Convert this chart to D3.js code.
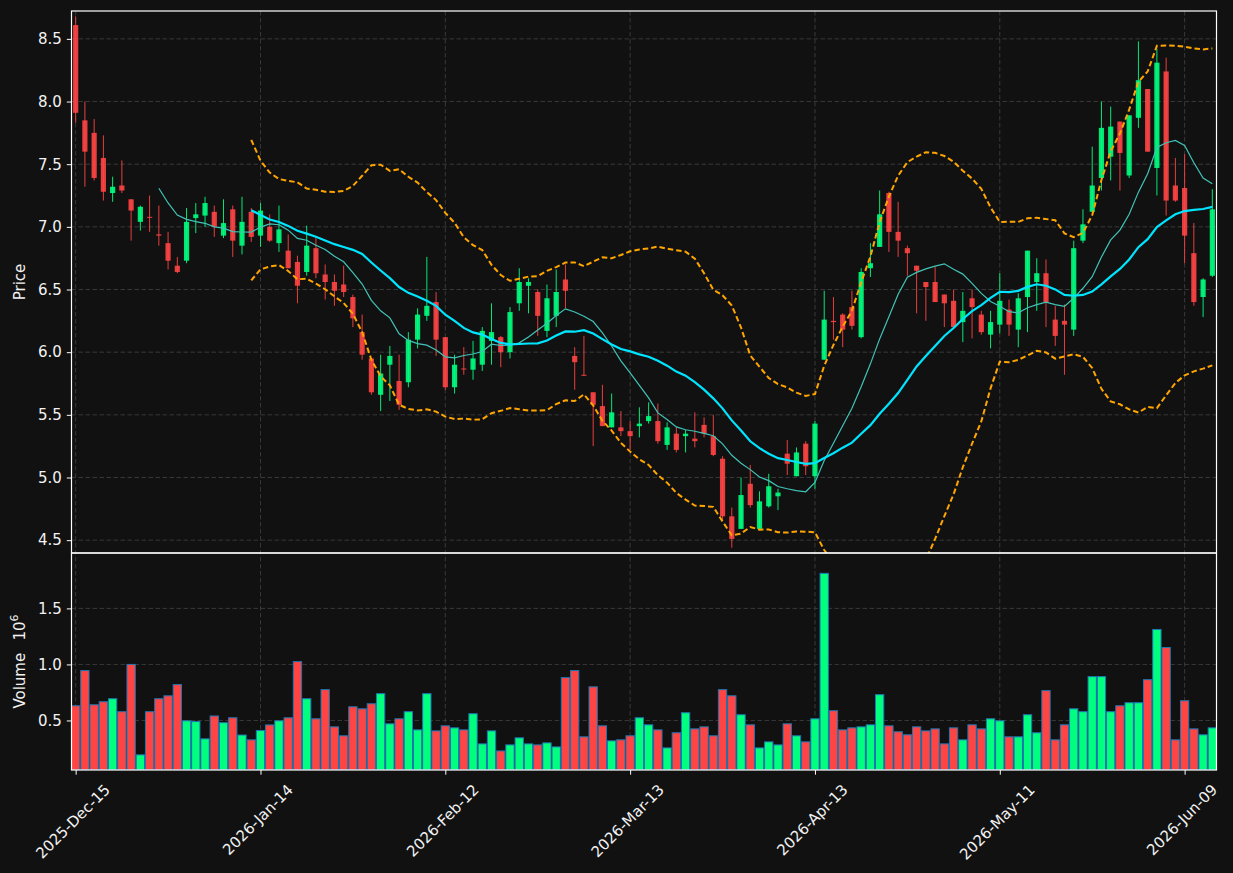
<!DOCTYPE html>
<html>
<head>
<meta charset="utf-8">
<script src="https://cdn.jsdelivr.net/npm/d3@7"></script>
<style>
  html, body { margin: 0; padding: 0; background: #111111; }
  svg { display: block; }
  text { font-family: "DejaVu Sans", sans-serif; fill: #f2f2f2; }
</style>
</head>
<body>
<svg id="chart" width="1233" height="873"></svg>
<script>
// daily OHLC (124 bars)
const openPx = [8.61,7.85,7.75,7.55,7.27,7.33,7.22,7.04,7.08,6.94,6.87,6.69,6.73,7.07,7.09,7.12,6.93,7.14,6.85,7.12,
  6.93,7.00,6.87,6.81,6.72,6.64,6.83,6.62,6.56,6.54,6.44,6.16,5.95,5.66,5.90,5.77,5.76,6.10,6.29,6.40,
  6.12,5.72,5.87,5.86,5.90,6.09,6.12,6.00,6.39,6.53,6.48,6.17,6.29,6.58,5.97,5.82,5.68,5.57,5.40,5.40,
  5.37,5.41,5.45,5.45,5.26,5.35,5.33,5.31,5.42,5.33,5.15,4.69,4.59,4.95,4.59,4.77,4.85,5.19,5.01,5.27,
  5.01,5.94,6.25,6.30,6.36,6.12,6.67,6.84,7.27,6.96,6.83,6.69,6.56,6.56,6.46,6.41,6.24,6.43,6.30,6.14,
  6.22,6.34,6.18,6.44,6.56,6.63,6.26,6.25,6.18,6.89,7.12,7.39,7.56,7.84,7.41,7.87,8.10,7.47,8.24,7.33,
  7.31,6.79,6.44,6.61];
const highPx = [8.68,8.00,7.86,7.73,7.40,7.53,7.22,7.17,7.25,7.17,6.96,6.76,7.15,7.19,7.24,7.17,7.22,7.17,7.24,7.15,
  7.19,7.10,7.17,6.94,6.77,7.01,6.92,6.70,6.62,6.69,6.46,6.30,5.95,5.98,6.05,5.98,6.16,6.35,6.76,6.48,
  6.12,5.98,6.04,6.09,6.20,6.39,6.13,6.36,6.67,6.59,6.50,6.54,6.66,6.70,6.04,6.13,5.68,5.74,5.67,5.53,
  5.45,5.56,5.60,5.59,5.44,5.40,5.38,5.52,5.48,5.50,5.17,4.76,5.00,5.10,4.89,5.03,4.91,5.30,5.24,5.29,
  5.45,6.49,6.44,6.31,6.49,6.67,6.87,7.29,7.28,7.20,6.85,6.69,6.56,6.68,6.46,6.50,6.48,6.50,6.33,6.33,
  6.63,6.42,6.47,6.81,6.75,6.74,6.37,6.38,6.89,7.14,7.64,8.00,7.96,7.84,7.89,8.48,8.10,8.42,8.35,7.55,
  7.58,7.03,6.59,7.30];
const lowPx = [7.83,7.32,7.37,7.21,7.20,7.27,6.89,6.97,6.96,6.85,6.66,6.63,6.71,6.95,7.00,6.92,6.91,6.76,6.78,6.88,
  6.84,6.88,6.80,6.67,6.39,6.61,6.59,6.42,6.37,6.44,6.20,5.94,5.66,5.53,5.61,5.54,5.72,6.03,6.25,5.97,
  5.70,5.67,5.82,5.78,5.85,5.90,5.88,5.95,6.33,6.31,6.13,6.12,6.20,6.35,5.70,5.81,5.25,5.41,5.40,5.33,
  5.22,5.32,5.43,5.27,5.22,5.20,5.20,5.24,5.32,5.17,4.66,4.44,4.59,4.76,4.58,4.76,4.74,5.02,5.01,5.02,
  4.91,5.94,6.10,6.04,6.18,6.11,6.60,6.84,6.80,6.76,6.61,6.31,6.25,6.40,6.20,6.20,6.08,6.11,6.14,6.03,
  6.15,6.13,6.04,6.16,6.33,6.20,6.05,5.82,6.13,6.87,7.12,7.29,7.37,7.29,7.39,7.79,7.60,7.25,7.09,7.20,
  6.71,6.37,6.28,6.60];
const closePx = [7.91,7.60,7.39,7.28,7.32,7.29,7.13,7.16,7.075,6.93,6.73,6.64,7.04,7.10,7.19,7.00,7.03,6.89,7.04,6.92,
  7.13,6.89,6.98,6.67,6.53,6.85,6.63,6.56,6.49,6.48,6.27,5.98,5.68,5.83,5.97,5.58,6.10,6.30,6.37,6.10,
  5.72,5.90,5.865,5.95,6.17,6.16,6.00,6.32,6.56,6.56,6.29,6.43,6.48,6.49,5.92,5.815,5.58,5.41,5.52,5.37,
  5.33,5.43,5.49,5.29,5.40,5.22,5.35,5.29,5.35,5.18,4.69,4.51,4.86,4.78,4.81,4.93,4.88,5.11,5.20,5.09,
  5.43,6.26,6.24,6.18,6.21,6.64,6.71,7.10,6.96,6.89,6.79,6.65,6.52,6.40,6.39,6.20,6.33,6.36,6.16,6.24,
  6.41,6.22,6.43,6.81,6.63,6.40,6.13,6.22,6.83,7.02,7.33,7.79,7.80,7.59,7.89,8.17,7.60,8.31,7.21,7.21,
  6.93,6.40,6.58,7.14];
// volume in millions of shares
const volumeM = [0.631,0.945,0.64,0.667,0.694,0.578,1.0,0.193,0.578,0.694,0.72,0.82,0.497,0.49,0.336,0.54,0.48,0.524,0.37,0.327,
  0.41,0.46,0.497,0.524,1.025,0.694,0.515,0.775,0.443,0.363,0.622,0.604,0.649,0.739,0.47,0.515,0.578,0.416,0.739,0.407,
  0.452,0.434,0.416,0.56,0.291,0.407,0.228,0.282,0.345,0.291,0.282,0.30,0.264,0.882,0.945,0.354,0.80,0.452,0.318,0.327,
  0.363,0.524,0.461,0.416,0.255,0.39,0.569,0.425,0.443,0.363,0.775,0.72,0.551,0.461,0.255,0.309,0.282,0.47,0.363,0.309,
  0.515,1.813,0.587,0.416,0.434,0.443,0.461,0.73,0.452,0.399,0.372,0.443,0.407,0.425,0.291,0.434,0.327,0.461,0.425,0.515,
  0.497,0.354,0.354,0.551,0.39,0.766,0.327,0.461,0.604,0.578,0.891,0.891,0.578,0.631,0.658,0.658,0.864,1.312,1.151,0.327,
  0.676,0.425,0.372,0.434];

const tickIndex = [0, 20, 40, 60, 80, 100, 120];
const tickLabels = ["2025-Dec-15", "2026-Jan-14", "2026-Feb-12", "2026-Mar-13", "2026-Apr-13", "2026-May-11", "2026-Jun-09"];
const priceTicks = [4.5, 5.0, 5.5, 6.0, 6.5, 7.0, 7.5, 8.0, 8.5];
const volumeTicks = [0.5, 1.0, 1.5];

const upColor = "#00ff7f";
const downColor = "#ff4444";

const bars = openPx.map((o, i) => ({
  i, o, h: highPx[i], l: lowPx[i], c: closePx[i], v: volumeM[i]
}));

// rolling stats from the closes
const sma = (vals, n) => vals.map((v, i) => i < n - 1 ? null : d3.mean(vals.slice(i - n + 1, i + 1)));
const bollinger = (vals, n, k) => vals.map((v, i) => {
  if (i < n - 1) return null;
  const w = vals.slice(i - n + 1, i + 1);
  const m = d3.mean(w);
  const sd = Math.sqrt(d3.mean(w, d => (d - m) ** 2));
  return { up: m + k * sd, lo: m - k * sd };
});
const ma10 = sma(closePx, 10);
const ma20 = sma(closePx, 20);
const bb = bollinger(closePx, 20, 2);

const left = 71.5, right = 1216.5;
const mainTop = 11, split = 553, volBottom = 770;
const fontSize = 15;

const svg = d3.select("#chart");
svg.append("rect").attr("width", 1233).attr("height", 873).attr("fill", "#111111");

const x = d3.scaleLinear().domain([-0.45, bars.length - 1 + 0.45]).range([left, right]);
const step = x(1) - x(0);

const pLo = d3.min(lowPx), pHi = d3.max(highPx), pad = (pHi - pLo) * 0.01;
const y = d3.scaleLinear().domain([pLo - pad, pHi + pad]).range([split, mainTop]);
const yv = d3.scaleLinear().domain([0.3 * d3.min(volumeM), 1.1 * d3.max(volumeM)]).range([volBottom, split]);

const defs = svg.append("defs");
defs.append("clipPath").attr("id", "clipMain")
  .append("rect").attr("x", left).attr("y", mainTop).attr("width", right - left).attr("height", split - mainTop);
defs.append("clipPath").attr("id", "clipVol")
  .append("rect").attr("x", left).attr("y", split).attr("width", right - left).attr("height", volBottom - split);

// grids
const grid = svg.append("g").attr("stroke", "#3d3d3d").attr("stroke-width", 0.9).attr("stroke-dasharray", "4.5,2.5");
grid.selectAll(".gx").data(tickIndex).enter().append("line")
  .attr("x1", d => x(d)).attr("x2", d => x(d)).attr("y1", mainTop).attr("y2", volBottom);
grid.selectAll(".gy").data(priceTicks).enter().append("line")
  .attr("x1", left).attr("x2", right).attr("y1", d => y(d)).attr("y2", d => y(d));
grid.selectAll(".gv").data(volumeTicks).enter().append("line")
  .attr("x1", left).attr("x2", right).attr("y1", d => yv(d)).attr("y2", d => yv(d));

// candles
const candles = svg.append("g").attr("clip-path", "url(#clipMain)");
const bodyW = 5.2;
candles.selectAll(".wick").data(bars).enter().append("line")
  .attr("x1", d => x(d.i)).attr("x2", d => x(d.i))
  .attr("y1", d => y(d.h)).attr("y2", d => y(d.l))
  .attr("stroke", d => d.c >= d.o ? upColor : downColor)
  .attr("stroke-opacity", 0.9).attr("stroke-width", 1);
candles.selectAll(".body").data(bars).enter().append("rect")
  .attr("x", d => x(d.i) - bodyW / 2).attr("width", bodyW)
  .attr("y", d => y(Math.max(d.o, d.c)))
  .attr("height", d => Math.max(1, Math.abs(y(d.o) - y(d.c))))
  .attr("fill", d => d.c >= d.o ? upColor : downColor)
  .attr("fill-opacity", 0.9);

// moving averages and bands
const lines = svg.append("g").attr("clip-path", "url(#clipMain)").attr("fill", "none");
const lineOf = arr => d3.line().defined((d, i) => arr[i] != null).x((d, i) => x(i)).y((d, i) => y(arr[i]))(arr);
lines.append("path").attr("d", lineOf(ma10)).attr("stroke", "#40c4b8").attr("stroke-width", 1.2);
lines.append("path").attr("d", lineOf(ma20)).attr("stroke", "#00e5ff").attr("stroke-width", 2.2);
const upper = bb.map(d => d ? d.up : null);
const lower = bb.map(d => d ? d.lo : null);
[upper, lower].forEach(arr => {
  lines.append("path").attr("d", lineOf(arr))
    .attr("stroke", "#ffa500").attr("stroke-width", 2).attr("stroke-dasharray", "5.5,3");
});

// volume
const volG = svg.append("g").attr("clip-path", "url(#clipVol)");
const volW = step * 0.9;
volG.selectAll(".vol").data(bars).enter().append("rect")
  .attr("x", d => x(d.i) - volW / 2).attr("width", volW)
  .attr("y", d => yv(d.v)).attr("height", d => volBottom - yv(d.v))
  .attr("fill", d => d.c >= d.o ? upColor : downColor)
  .attr("stroke", "#1f77b4").attr("stroke-width", 1);

// frames
svg.append("rect").attr("x", left).attr("y", mainTop).attr("width", right - left).attr("height", split - mainTop)
  .attr("fill", "none").attr("stroke", "#ffffff").attr("stroke-width", 1.2);
svg.append("rect").attr("x", left).attr("y", split).attr("width", right - left).attr("height", volBottom - split)
  .attr("fill", "none").attr("stroke", "#ffffff").attr("stroke-width", 1.2);

// axes
const styleAxis = g => {
  g.select(".domain").remove();
  g.selectAll(".tick line").attr("stroke", "#ffffff").attr("stroke-width", 1);
  g.selectAll(".tick text").attr("fill", "#f2f2f2").attr("font-size", fontSize)
    .attr("font-family", "DejaVu Sans, sans-serif");
};
svg.append("g").attr("transform", `translate(${left},0)`)
  .call(d3.axisLeft(y).tickValues(priceTicks).tickFormat(d3.format(".1f")).tickSize(4.7).tickPadding(5))
  .call(styleAxis);
svg.append("g").attr("transform", `translate(${left},0)`)
  .call(d3.axisLeft(yv).tickValues(volumeTicks).tickFormat(d3.format(".1f")).tickSize(4.7).tickPadding(5))
  .call(styleAxis);

const xAxis = svg.append("g").attr("transform", `translate(0,${volBottom})`)
  .call(d3.axisBottom(x).tickValues(tickIndex).tickFormat((d, i) => tickLabels[i]).tickSize(4.7))
  .call(styleAxis);
xAxis.selectAll(".tick text").each(function () {
  const t = d3.select(this);
  const w = this.getComputedTextLength();
  const half = (w + fontSize) * Math.SQRT1_2 / 2;
  t.attr("text-anchor", "middle").attr("dy", null).attr("y", null)
    .attr("dominant-baseline", "central")
    .attr("transform", `translate(-3,${12 + half}) rotate(-45)`);
});

// axis titles
svg.append("text").attr("transform", `translate(25,${(mainTop + split) / 2}) rotate(-90)`)
  .attr("text-anchor", "middle").attr("font-size", fontSize).text("Price");
const vt = svg.append("text").attr("transform", `translate(25,${(split + volBottom) / 2}) rotate(-90)`)
  .attr("text-anchor", "middle").attr("font-size", fontSize);
vt.append("tspan").text("Volume\u2002 10");
vt.append("tspan").attr("dy", -7).attr("font-size", 11).text("6");
</script>
</body>
</html>
